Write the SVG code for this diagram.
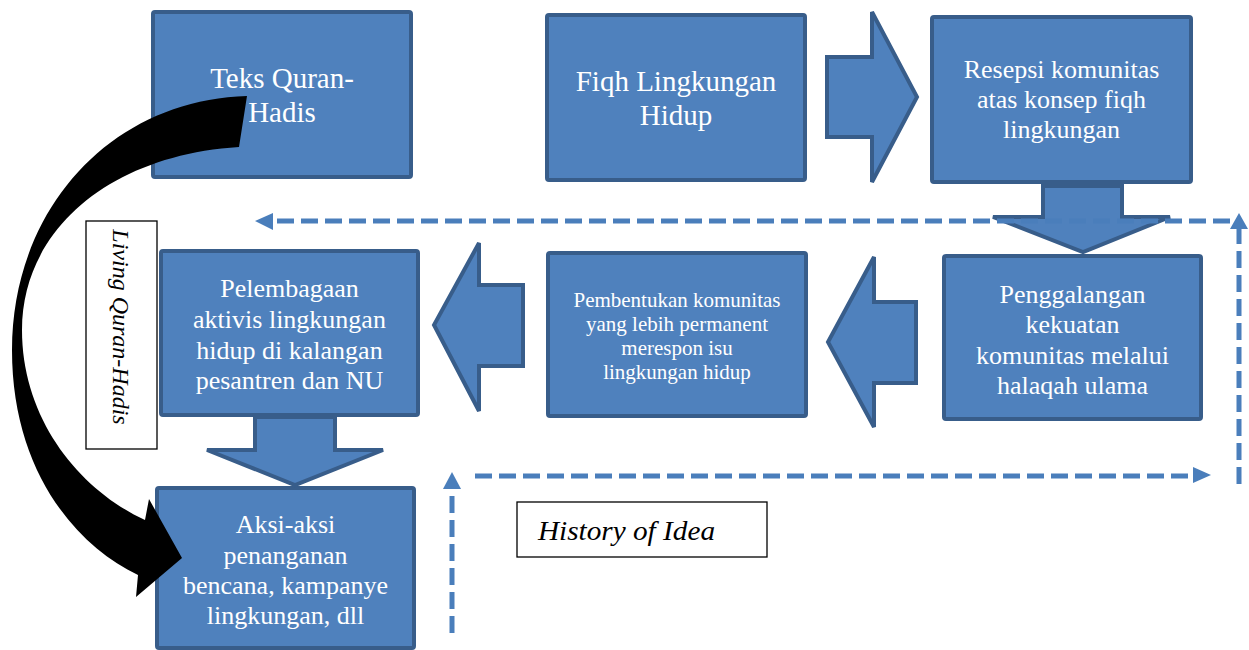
<svg xmlns="http://www.w3.org/2000/svg" width="1249" height="650" viewBox="0 0 1249 650">
<defs>
<style>
.box{fill:#4f81bd;stroke:#385d8a;stroke-width:4;}
.blk{fill:#4f81bd;stroke:#385d8a;stroke-width:4;stroke-linejoin:miter;}
.t{font-family:"Liberation Serif","Times New Roman",serif;fill:#ffffff;text-anchor:middle;}
.dash{fill:none;stroke:#4a7ebb;stroke-width:5;stroke-dasharray:17 7;}
.head{fill:#4a7ebb;}
.lbl{fill:#ffffff;stroke:#000000;stroke-width:1.3;}
.it{font-family:"Liberation Serif","Times New Roman",serif;font-style:italic;fill:#000000;}
</style>
</defs>
<rect width="1249" height="650" fill="#ffffff"/>

<g id="node-teks">
<rect class="box" x="153" y="12" width="258" height="165" rx="2"/>
<text class="t" font-size="29"><tspan x="282" y="88">Teks Quran-</tspan><tspan x="282" y="122">Hadis</tspan></text>
</g>
<g id="node-fiqh">
<rect class="box" x="547" y="15" width="258" height="165" rx="2"/>
<text class="t" font-size="29"><tspan x="676" y="91">Fiqh Lingkungan</tspan><tspan x="676" y="125">Hidup</tspan></text>
</g>
<g id="node-resepsi">
<rect class="box" x="932" y="17" width="259" height="165" rx="2"/>
<text class="t" font-size="26"><tspan x="1061.5" y="78">Resepsi komunitas</tspan><tspan x="1061.5" y="108">atas konsep fiqh</tspan><tspan x="1061.5" y="138">lingkungan</tspan></text>
</g>
<g id="node-penggalangan">
<rect class="box" x="944" y="256" width="257" height="163" rx="2"/>
<text class="t" font-size="26"><tspan x="1072.5" y="303">Penggalangan</tspan><tspan x="1072.5" y="333">kekuatan</tspan><tspan x="1072.5" y="364">komunitas melalui</tspan><tspan x="1072.5" y="394">halaqah ulama</tspan></text>
</g>
<g id="node-pembentukan">
<rect class="box" x="548" y="253" width="258" height="163" rx="2"/>
<text class="t" font-size="21"><tspan x="677" y="307">Pembentukan komunitas</tspan><tspan x="677" y="331">yang lebih permanent</tspan><tspan x="677" y="355">merespon isu</tspan><tspan x="677" y="379">lingkungan hidup</tspan></text>
</g>
<g id="node-pelembagaan">
<rect class="box" x="161" y="251" width="257" height="164" rx="2"/>
<text class="t" font-size="26"><tspan x="289.5" y="297">Pelembagaan</tspan><tspan x="289.5" y="328">aktivis lingkungan</tspan><tspan x="289.5" y="359">hidup di kalangan</tspan><tspan x="289.5" y="389">pesantren dan NU</tspan></text>
</g>
<g id="node-aksi">
<rect class="box" x="157" y="488" width="257" height="160" rx="2"/>
<text class="t" font-size="26"><tspan x="285.5" y="533">Aksi-aksi</tspan><tspan x="285.5" y="564">penanganan</tspan><tspan x="285.5" y="594">bencana, kampanye</tspan><tspan x="285.5" y="624">lingkungan, dll</tspan></text>
</g>
<g id="label-living">
<rect class="lbl" x="86" y="221" width="71" height="228"/>
<text class="it" font-size="24" text-anchor="middle" transform="translate(113,327) rotate(90)" x="0" y="0">Living Quran-Hadis</text>
</g>
<g id="label-history">
<rect class="lbl" x="517" y="502" width="250" height="55"/>
<text class="it" font-size="27" x="538" y="540" textLength="177" lengthAdjust="spacingAndGlyphs">History of Idea</text>
</g>

<g id="connectors">
<polygon class="blk" points="827,57 872,57 872,12 917,97 872,182 872,137 827,137"/>
<polygon class="blk" points="1043,186 1122,186 1122,217 1170,217 1083,252 993,217 1043,217"/>
<polygon class="blk" points="916,302 874,302 874,257 828,342 874,427 874,383 916,383"/>
<polygon class="blk" points="523,285 479,285 479,243 434,325 479,411 479,366 523,366"/>
<polygon class="blk" points="255,417 335,417 335,450 383,450 295,485 207,450 255,450"/>

<path class="dash" d="M1230,221 H273"/>
<polygon class="head" points="255,221 273,213 273,230"/>
<path class="dash" d="M1239,484 V229"/>
<polygon class="head" points="1239,213 1230,229 1248,229"/>
<path class="dash" d="M475,476 H1193"/>
<polygon class="head" points="1211,475 1193,467 1193,483"/>
<path class="dash" d="M452,633 V489"/>
<polygon class="head" points="452,472 443,489 461,489"/>

<path fill="#000000" d="M247,96 C110,100 12,210 12,350 C12,470 75,545 138,575 L136,597 L182,558 L149,499 L145,520 C80,490 22,420 22,330 C22,230 110,155 239,147 Z"/>
</g>
</svg>
